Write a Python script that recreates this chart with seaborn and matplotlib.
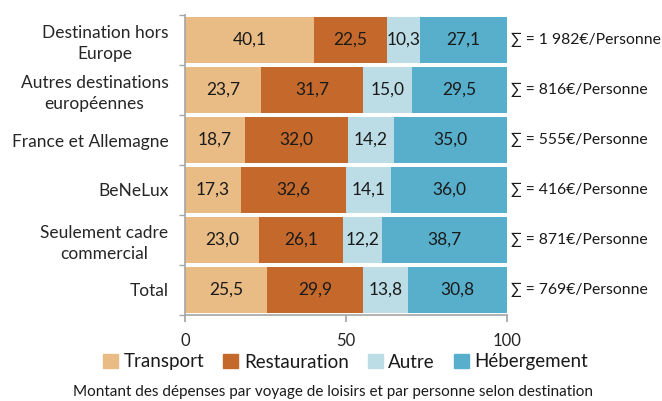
import numpy as np
import pandas as pd
import matplotlib.pyplot as plt
import matplotlib.patches as mpatches
from matplotlib.ticker import FixedLocator
import seaborn as sns

# ── Data ──────────────────────────────────────────────────────
categories = ["Destination hors\nEurope", "Autres destinations\neuropéennes",
              "France et Allemagne", "BeNeLux",
              "Seulement cadre\ncommercial", "Total"]
transport = [40.1, 23.7, 18.7, 17.3, 23.0, 25.5]
restauration = [22.5, 31.7, 32.0, 32.6, 26.1, 29.9]
autre = [10.3, 15.0, 14.2, 14.1, 12.2, 13.8]
hebergement = [27.1, 29.5, 35.0, 36.0, 38.7, 30.8]
totals = ["1 982", "816", "555", "416", "871", "769"]

series = ["Transport", "Restauration", "Autre", "Hébergement"]
COLORS = ["#E9BC86", "#C4692B", "#BCDDE6", "#58AFCB"]

# ── Style ─────────────────────────────────────────────────────
sns.set_theme(style="white")
plt.rcParams['font.family'] = ['Lato', 'DejaVu Sans']
plt.rcParams['text.color'] = '#1a1a1a'

df = pd.DataFrame({"cat": categories, "Transport": transport,
                   "Restauration": restauration, "Autre": autre,
                   "Hébergement": hebergement})
cum = df[series].cumsum(axis=1)

fig = plt.figure(figsize=(6.62, 4.01), dpi=100)
ax = fig.add_axes([185 / 662, 1 - 315 / 401, 322 / 662, 300 / 401])

# stacked bars: draw cumulative totals, widest first
for s, c in reversed(list(zip(series, COLORS))):
    sns.barplot(x=cum[s], y=df["cat"], color=c, orient="h", width=0.92,
                ax=ax, linewidth=0, saturation=1)

# segment labels
for s in series:
    for i, (v, end) in enumerate(zip(df[s], cum[s])):
        ax.text(end - v / 2, i, f"{v:.1f}".replace(".", ","),
                ha="center", va="center", fontsize=12.5)

# totals on the right
for i, t in enumerate(totals):
    ax.text(101.3, i, f"∑ = {t}€/Personne", ha="left", va="center",
            fontsize=11.3)

ax.set_xlim(0, 100)
ax.set_ylim(5.5, -0.5)
ax.set_xticks([0, 50, 100])
ax.set_xlabel("")
ax.set_ylabel("")
ax.tick_params(axis="x", bottom=True, length=5, color="#A6A6A6",
               labelsize=12, pad=8)
ax.tick_params(axis="y", which="major", length=0, labelsize=12.5, pad=12)
ax.yaxis.set_minor_locator(FixedLocator(np.arange(-0.5, 6, 1)))
ax.tick_params(axis="y", which="minor", left=True, length=4, color="#A6A6A6")
for lbl in ax.get_yticklabels():
    lbl.set_multialignment("center")
    lbl.set_linespacing(1.35)
for side in ["top", "right"]:
    ax.spines[side].set_visible(False)
for side in ["left", "bottom"]:
    ax.spines[side].set_color("#A6A6A6")
    ax.spines[side].set_linewidth(1.2)

handles = [mpatches.Patch(color=c, label=s) for s, c in zip(series, COLORS)]
fig.legend(handles=handles, loc="center", bbox_to_anchor=(0.522, 1 - 362 / 401),
           ncol=4, frameon=False, fontsize=13.5, handlelength=0.8,
           handleheight=0.8, handletextpad=0.3, columnspacing=1.0,
           borderpad=0)

fig.text(0.503, 1 - 392 / 401,
         "Montant des dépenses par voyage de loisirs et par personne selon destination",
         ha="center", va="center", fontsize=11)

plt.savefig("out.png", dpi=100)
plt.close()
